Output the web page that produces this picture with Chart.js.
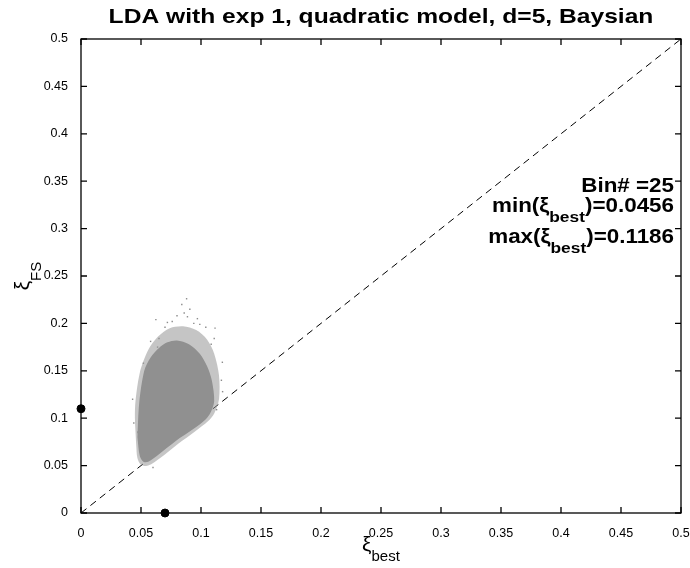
<!DOCTYPE html>
<html>
<head>
<meta charset="utf-8">
<script src="https://cdn.jsdelivr.net/npm/chart.js@4.4.1/dist/chart.umd.min.js"></script>
<style>
  html, body { margin: 0; padding: 0; background: #fff; }
  #wrap { width: 690px; height: 568px; }
</style>
</head>
<body>
<div id="wrap"><canvas id="chart" width="690" height="568"></canvas></div>
<script>
// axis ticks
var tick_values = [0, 0.05, 0.1, 0.15, 0.2, 0.25, 0.3, 0.35, 0.4, 0.45, 0.5];

// mean curve (xi_best vs xi_FS)
var curve_x = [0.049, 0.054, 0.058, 0.061, 0.065, 0.068, 0.072, 0.076, 0.080, 0.084, 0.088, 0.092, 0.097, 0.101, 0.104];
var curve_y = [0.085, 0.087, 0.091, 0.096, 0.101, 0.109, 0.117, 0.123, 0.128, 0.133, 0.138, 0.141, 0.143, 0.144, 0.145];

// outline of the dense part of the scatter cloud
var dense_x = [0.047, 0.0485, 0.0527, 0.058, 0.065, 0.072, 0.080, 0.090, 0.099, 0.105, 0.109, 0.111, 0.108, 0.104, 0.093, 0.079, 0.065, 0.056, 0.052, 0.049, 0.047];
var dense_y = [0.080, 0.116, 0.150, 0.164, 0.174, 0.180, 0.182, 0.178, 0.168, 0.155, 0.140, 0.118, 0.106, 0.099, 0.088, 0.076, 0.062, 0.054, 0.054, 0.060, 0.080];

// outline of the sparse fringe of the cloud
var fringe_x = [0.046, 0.045, 0.049, 0.056, 0.064, 0.074, 0.085, 0.096, 0.105, 0.111, 0.115, 0.115, 0.111, 0.106, 0.095, 0.081, 0.066, 0.056, 0.050, 0.047, 0.046];
var fringe_y = [0.072, 0.110, 0.148, 0.172, 0.186, 0.195, 0.197, 0.193, 0.183, 0.168, 0.145, 0.120, 0.105, 0.097, 0.086, 0.073, 0.058, 0.050, 0.051, 0.058, 0.072];

// isolated scatter points outside the cloud
var outlier_x = [0.088, 0.084, 0.0907, 0.0624, 0.072, 0.0887, 0.097, 0.104, 0.1117, 0.111, 0.1178, 0.065, 0.0638, 0.080, 0.076, 0.094, 0.058, 0.118, 0.113, 0.052, 0.1085, 0.060, 0.044, 0.043, 0.117, 0.070, 0.099, 0.086];
var outlier_y = [0.226, 0.220, 0.215, 0.204, 0.201, 0.207, 0.205, 0.196, 0.195, 0.184, 0.159, 0.184, 0.175, 0.208, 0.202, 0.200, 0.181, 0.128, 0.109, 0.158, 0.178, 0.048, 0.095, 0.120, 0.140, 0.196, 0.199, 0.211];

// marked points on the axes
var mark_x = [0, 0.07];
var mark_y = [0.11, 0];

function pts(xs, ys) {
    var out = [];
    for (let i = 0; i < xs.length; i++) {
        out.push({ x: xs[i], y: ys[i] });
    }
    return out;
}

function fmt(v) {
    return String(+v.toFixed(2));
}

var FONT = "'Liberation Sans', Arial, Helvetica, sans-serif";

// the reference font renders a bit wider than Liberation Sans
var STRETCH = 1.12;

// box, inward ticks and the texts
var decor = {
    id: "decor",
    afterDatasetsDraw: function (chart) {
        let ctx = chart.ctx;
        let a = chart.chartArea;
        let sx = chart.scales.x;
        let sy = chart.scales.y;
        ctx.save();
        ctx.strokeStyle = "#000";
        ctx.lineWidth = 1.3;
        ctx.strokeRect(a.left, a.top, a.right - a.left, a.bottom - a.top);
        let len = 6;
        ctx.beginPath();
        for (let i = 0; i < tick_values.length; i++) {
            let px = sx.getPixelForValue(tick_values[i]);
            let py = sy.getPixelForValue(tick_values[i]);
            ctx.moveTo(px, a.bottom); ctx.lineTo(px, a.bottom - len);
            ctx.moveTo(px, a.top); ctx.lineTo(px, a.top + len);
            ctx.moveTo(a.left, py); ctx.lineTo(a.left + len, py);
            ctx.moveTo(a.right, py); ctx.lineTo(a.right - len, py);
        }
        ctx.stroke();
        ctx.restore();
    },
    afterDraw: function (chart) {
        let ctx = chart.ctx;
        let a = chart.chartArea;
        let cx = (a.left + a.right) / 2;
        let cy = (a.top + a.bottom) / 2;
        ctx.save();
        ctx.fillStyle = "#000";
        ctx.textBaseline = "alphabetic";

        // title
        ctx.save();
        ctx.font = "bold 20.5px " + FONT;
        ctx.textAlign = "center";
        ctx.translate(cx, 23);
        ctx.scale(1.2, 1);
        ctx.fillText("LDA with exp 1, quadratic model, d=5, Baysian", 0, 0);
        ctx.restore();

        // x axis label
        ctx.textAlign = "left";
        ctx.font = "21px " + FONT;
        let w1 = ctx.measureText("\u03BE").width;
        ctx.font = "15px " + FONT;
        let w2 = ctx.measureText("best").width;
        let x0 = cx - (w1 + w2) / 2;
        ctx.font = "21px " + FONT;
        ctx.fillText("\u03BE", x0, 551);
        ctx.font = "15px " + FONT;
        ctx.fillText("best", x0 + w1, 561);

        // y axis label
        ctx.save();
        ctx.font = "21px " + FONT;
        w1 = ctx.measureText("\u03BE").width;
        ctx.font = "15px " + FONT;
        w2 = ctx.measureText("FS").width;
        ctx.translate(29, cy + (w1 + w2) / 2);
        ctx.rotate(-Math.PI / 2);
        ctx.font = "21px " + FONT;
        ctx.fillText("\u03BE", 0, 0);
        ctx.font = "15px " + FONT;
        ctx.fillText("FS", w1, 12);
        ctx.restore();

        // annotation, right aligned
        let right = 674;
        function line(parts, base) {
            let w = 0;
            for (let p of parts) {
                ctx.font = "bold " + p[1] + "px " + FONT;
                w += ctx.measureText(p[0]).width;
            }
            ctx.save();
            ctx.translate(right, base);
            ctx.scale(STRETCH, 1);
            let x = -w;
            for (let p of parts) {
                ctx.font = "bold " + p[1] + "px " + FONT;
                ctx.fillText(p[0], x, p[2]);
                x += ctx.measureText(p[0]).width;
            }
            ctx.restore();
        }
        line([["Bin# =25", 20, 0]], 192);
        line([["min(", 20, 0], ["\u03BE", 20, 0], ["best", 15.5, 10], [")=0.0456", 20, 0]], 212);
        line([["max(", 20, 0], ["\u03BE", 20, 0], ["best", 15.5, 10], [")=0.1186", 20, 0]], 243);
        ctx.restore();
    }
};

var ctx = document.getElementById("chart").getContext("2d");
var chart = new Chart(ctx, {
    type: "scatter",
    data: {
        datasets: [
            {
                label: "fringe",
                data: pts(fringe_x, fringe_y),
                showLine: true,
                fill: "shape",
                backgroundColor: "rgba(150,150,150,0.55)",
                borderWidth: 0,
                pointRadius: 0,
                tension: 0.3,
            },
            {
                label: "cloud",
                data: pts(dense_x, dense_y),
                showLine: true,
                fill: "shape",
                backgroundColor: "rgb(138,138,138)",
                borderWidth: 0,
                pointRadius: 0,
                tension: 0.3,
            },
            {
                label: "outliers",
                data: pts(outlier_x, outlier_y),
                backgroundColor: "rgb(140,140,140)",
                borderWidth: 0,
                pointRadius: 1,
                pointStyle: "rect",
            },
            {
                label: "diagonal",
                data: pts([0, 0.5], [0, 0.5]),
                showLine: true,
                borderColor: "#000",
                borderWidth: 1,
                borderDash: [7, 5],
                pointRadius: 0,
            },
            {
                label: "mean",
                data: pts(curve_x, curve_y),
                showLine: true,
                borderColor: "#000",
                borderWidth: 4.5,
                borderCapStyle: "round",
                borderJoinStyle: "round",
                pointRadius: 0,
                tension: 0.3,
            },
            {
                label: "marks",
                data: pts(mark_x, mark_y),
                backgroundColor: "#000",
                borderColor: "#000",
                borderWidth: 1,
                pointRadius: 4,
                clip: false,
            },
        ],
    },
    options: {
        responsive: false,
        animation: false,
        layout: { padding: { left: 0, right: 9, top: 39, bottom: 0 } },
        plugins: { legend: { display: false }, tooltip: { enabled: false } },
        scales: {
            x: {
                type: "linear",
                min: 0,
                max: 0.5,
                afterFit: function (s) { s.height = 55; s.paddingLeft = 0; s.paddingRight = 0; },
                afterBuildTicks: function (s) { s.ticks = tick_values.map(v => ({ value: v })); },
                grid: { display: false },
                border: { display: false },
                ticks: { callback: fmt, color: "#000", padding: 5, maxRotation: 0, autoSkip: false, font: { family: FONT, size: 12.5 } },
            },
            y: {
                type: "linear",
                min: 0,
                max: 0.5,
                afterFit: function (s) { s.width = 81; s.paddingTop = 0; s.paddingBottom = 0; },
                afterBuildTicks: function (s) { s.ticks = tick_values.map(v => ({ value: v })); },
                grid: { display: false },
                border: { display: false },
                ticks: { callback: fmt, color: "#000", padding: 5, autoSkip: false, font: { family: FONT, size: 12.5 } },
            },
        },
    },
    plugins: [decor],
});
</script>
</body>
</html>
